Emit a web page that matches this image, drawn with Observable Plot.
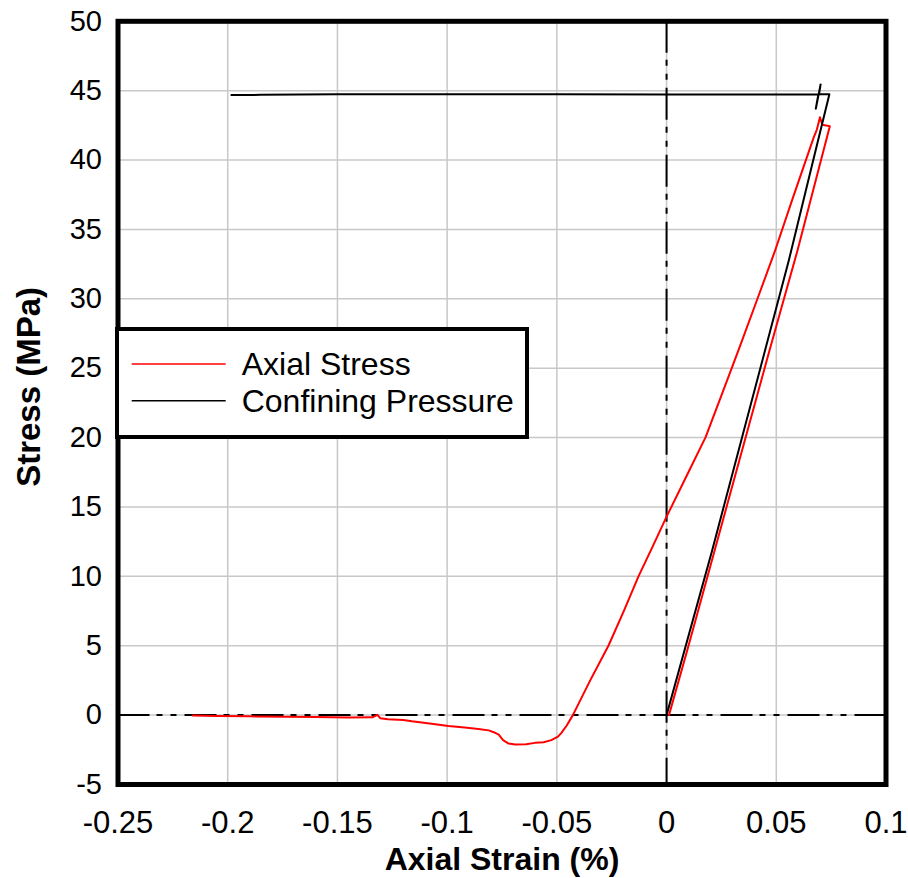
<!DOCTYPE html>
<html>
<head>
<meta charset="utf-8">
<script src="https://cdn.jsdelivr.net/npm/d3@7"></script>
<script src="https://cdn.jsdelivr.net/npm/@observablehq/plot@0.6"></script>
<style>
  html, body { margin: 0; padding: 0; background: white; }
  #wrap { position: relative; width: 908px; height: 878px; }
  #legend { position: absolute; left: 115px; top: 327px; }
</style>
</head>
<body>
<div id="wrap"></div>
<script>
// ---- data ----
const xTicks = [-0.25, -0.2, -0.15, -0.1, -0.05, 0, 0.05, 0.1];
const xTickLabels = ["-0.25", "-0.2", "-0.15", "-0.1", "-0.05", "0", "0.05", "0.1"];
const yTicks = [-5, 0, 5, 10, 15, 20, 25, 30, 35, 40, 45, 50];
const yTickLabels = ["-5", "0", "5", "10", "15", "20", "25", "30", "35", "40", "45", "50"];

const seriesNames = ["Axial Stress", "Confining Pressure"];
const seriesColors = ["#ff0000", "#000000"];

// Axial stress path (strain %, stress MPa)
const axialStrain = [
  -0.216, -0.205, -0.19, -0.174, -0.16, -0.145, -0.134, -0.1318, -0.1305, -0.127,
  -0.12, -0.116, -0.108, -0.0994, -0.092, -0.0858, -0.081, -0.0785, -0.0765, -0.0745,
  -0.072, -0.069, -0.064, -0.06, -0.056, -0.0525, -0.0495, -0.048, -0.0455, -0.0427,
  -0.0348, -0.0265, -0.0195, -0.0128, -0.0062, 0, 0.009, 0.0178,
  0.0254, 0.033, 0.0413, 0.0494, 0.0574, 0.0671, 0.0685, 0.0699, 0.071, 0.0744,
  0.0596, 0.0469, 0.0219, 0.01, 0.0011
];
const axialStress = [
  -0.02, -0.06, -0.09, -0.12, -0.14, -0.17, -0.16, 0.02, -0.22, -0.3,
  -0.36, -0.45, -0.6, -0.79, -0.9, -1.0, -1.1, -1.25, -1.4, -1.8,
  -2.05, -2.12, -2.1, -2.0, -1.95, -1.8, -1.55, -1.3, -0.75, 0,
  2.5, 5.0, 7.5, 10.0, 12.2, 14.3, 17.2, 20.03,
  23.2, 26.4, 29.95, 33.45, 37.2, 41.65, 42.2, 43.09, 42.54, 42.44,
  33.45, 26.27, 11.87, 5.0, 0
];

// Confining pressure path
const confStrain = [
  -0.1983, -0.185, -0.15, -0.1, -0.05, 0, 0.05, 0.0695, 0.0702, 0.068,
  0.0692, 0.0742, 0.0668, 0.0557, 0.0208, 0
];
const confStress = [
  44.68, 44.7, 44.75, 44.75, 44.74, 44.72, 44.73, 44.75, 45.45, 43.7,
  44.75, 44.75, 39.97, 32.76, 11.88, 0
];

const axial = axialStrain.map((x, i) => ({strain: x, stress: axialStress[i]}));
const confining = confStrain.map((x, i) => ({strain: x, stress: confStress[i]}));

const font = "'Liberation Sans', Arial, Helvetica, sans-serif";
const dash = "32,7,6,8,6,8";

const chart = Plot.plot({
  width: 908,
  height: 878,
  marginLeft: 117.5,
  marginRight: 22.5,
  marginTop: 20.8,
  marginBottom: 94,
  x: {domain: [-0.25, 0.1]},
  y: {domain: [-5, 50]},
  style: {fontFamily: font, color: "black", background: "white", overflow: "visible"},
  marks: [
    Plot.gridX(xTicks, {stroke: "#c8c8c8", strokeOpacity: 1, strokeWidth: 1.5}),
    Plot.gridY(yTicks, {stroke: "#c8c8c8", strokeOpacity: 1, strokeWidth: 1.5}),
    Plot.ruleY([0], {stroke: "black", strokeWidth: 2, strokeDasharray: dash}),
    Plot.ruleX([0], {stroke: "black", strokeWidth: 2, strokeDasharray: dash}),
    Plot.line(axial, {x: "strain", y: "stress", stroke: seriesColors[0], strokeWidth: 2}),
    Plot.line(confining, {x: "strain", y: "stress", stroke: seriesColors[1], strokeWidth: 2}),
    Plot.frame({stroke: "black", strokeWidth: 5}),
    Plot.axisX(xTicks, {tickSize: 0, tickPadding: 26, fontSize: 31, label: null,
      tickFormat: d => xTickLabels[xTicks.indexOf(d)]}),
    Plot.axisY(yTicks, {tickSize: 0, tickPadding: 16, fontSize: 29, label: null,
      tickFormat: d => yTickLabels[yTicks.indexOf(d)]}),
    Plot.text(["Stress (MPa)"], {text: d => d, frameAnchor: "left", dx: -89, dy: -16,
      rotate: -90, fontSize: 33, fontWeight: "bold", textAnchor: "middle", lineAnchor: "middle"}),
    Plot.text(["Axial Strain (%)"], {text: d => d, frameAnchor: "bottom", dy: 75,
      fontSize: 32, fontWeight: "bold", textAnchor: "middle", lineAnchor: "middle"})
  ]
});

const wrap = document.getElementById("wrap");
wrap.appendChild(chart);

// Legend box overlay
const ns = "http://www.w3.org/2000/svg";
const leg = document.createElementNS(ns, "svg");
leg.setAttribute("id", "legend");
leg.setAttribute("width", 414);
leg.setAttribute("height", 112);
leg.style.fontFamily = font;
const rect = document.createElementNS(ns, "rect");
rect.setAttribute("x", 2); rect.setAttribute("y", 2);
rect.setAttribute("width", 410); rect.setAttribute("height", 108);
rect.setAttribute("fill", "white"); rect.setAttribute("stroke", "black");
rect.setAttribute("stroke-width", 4);
leg.appendChild(rect);
seriesNames.forEach((name, i) => {
  const y = 37 + i * 36.7;
  const ln = document.createElementNS(ns, "line");
  ln.setAttribute("x1", 16.7); ln.setAttribute("x2", 110.7);
  ln.setAttribute("y1", y); ln.setAttribute("y2", y);
  ln.setAttribute("stroke", seriesColors[i]); ln.setAttribute("stroke-width", 1.6);
  leg.appendChild(ln);
  const t = document.createElementNS(ns, "text");
  t.setAttribute("x", 126.7); t.setAttribute("y", y + 11);
  t.setAttribute("font-size", 32);
  t.setAttribute("fill", "black");
  t.textContent = name;
  leg.appendChild(t);
});
wrap.appendChild(leg);
</script>
</body>
</html>
